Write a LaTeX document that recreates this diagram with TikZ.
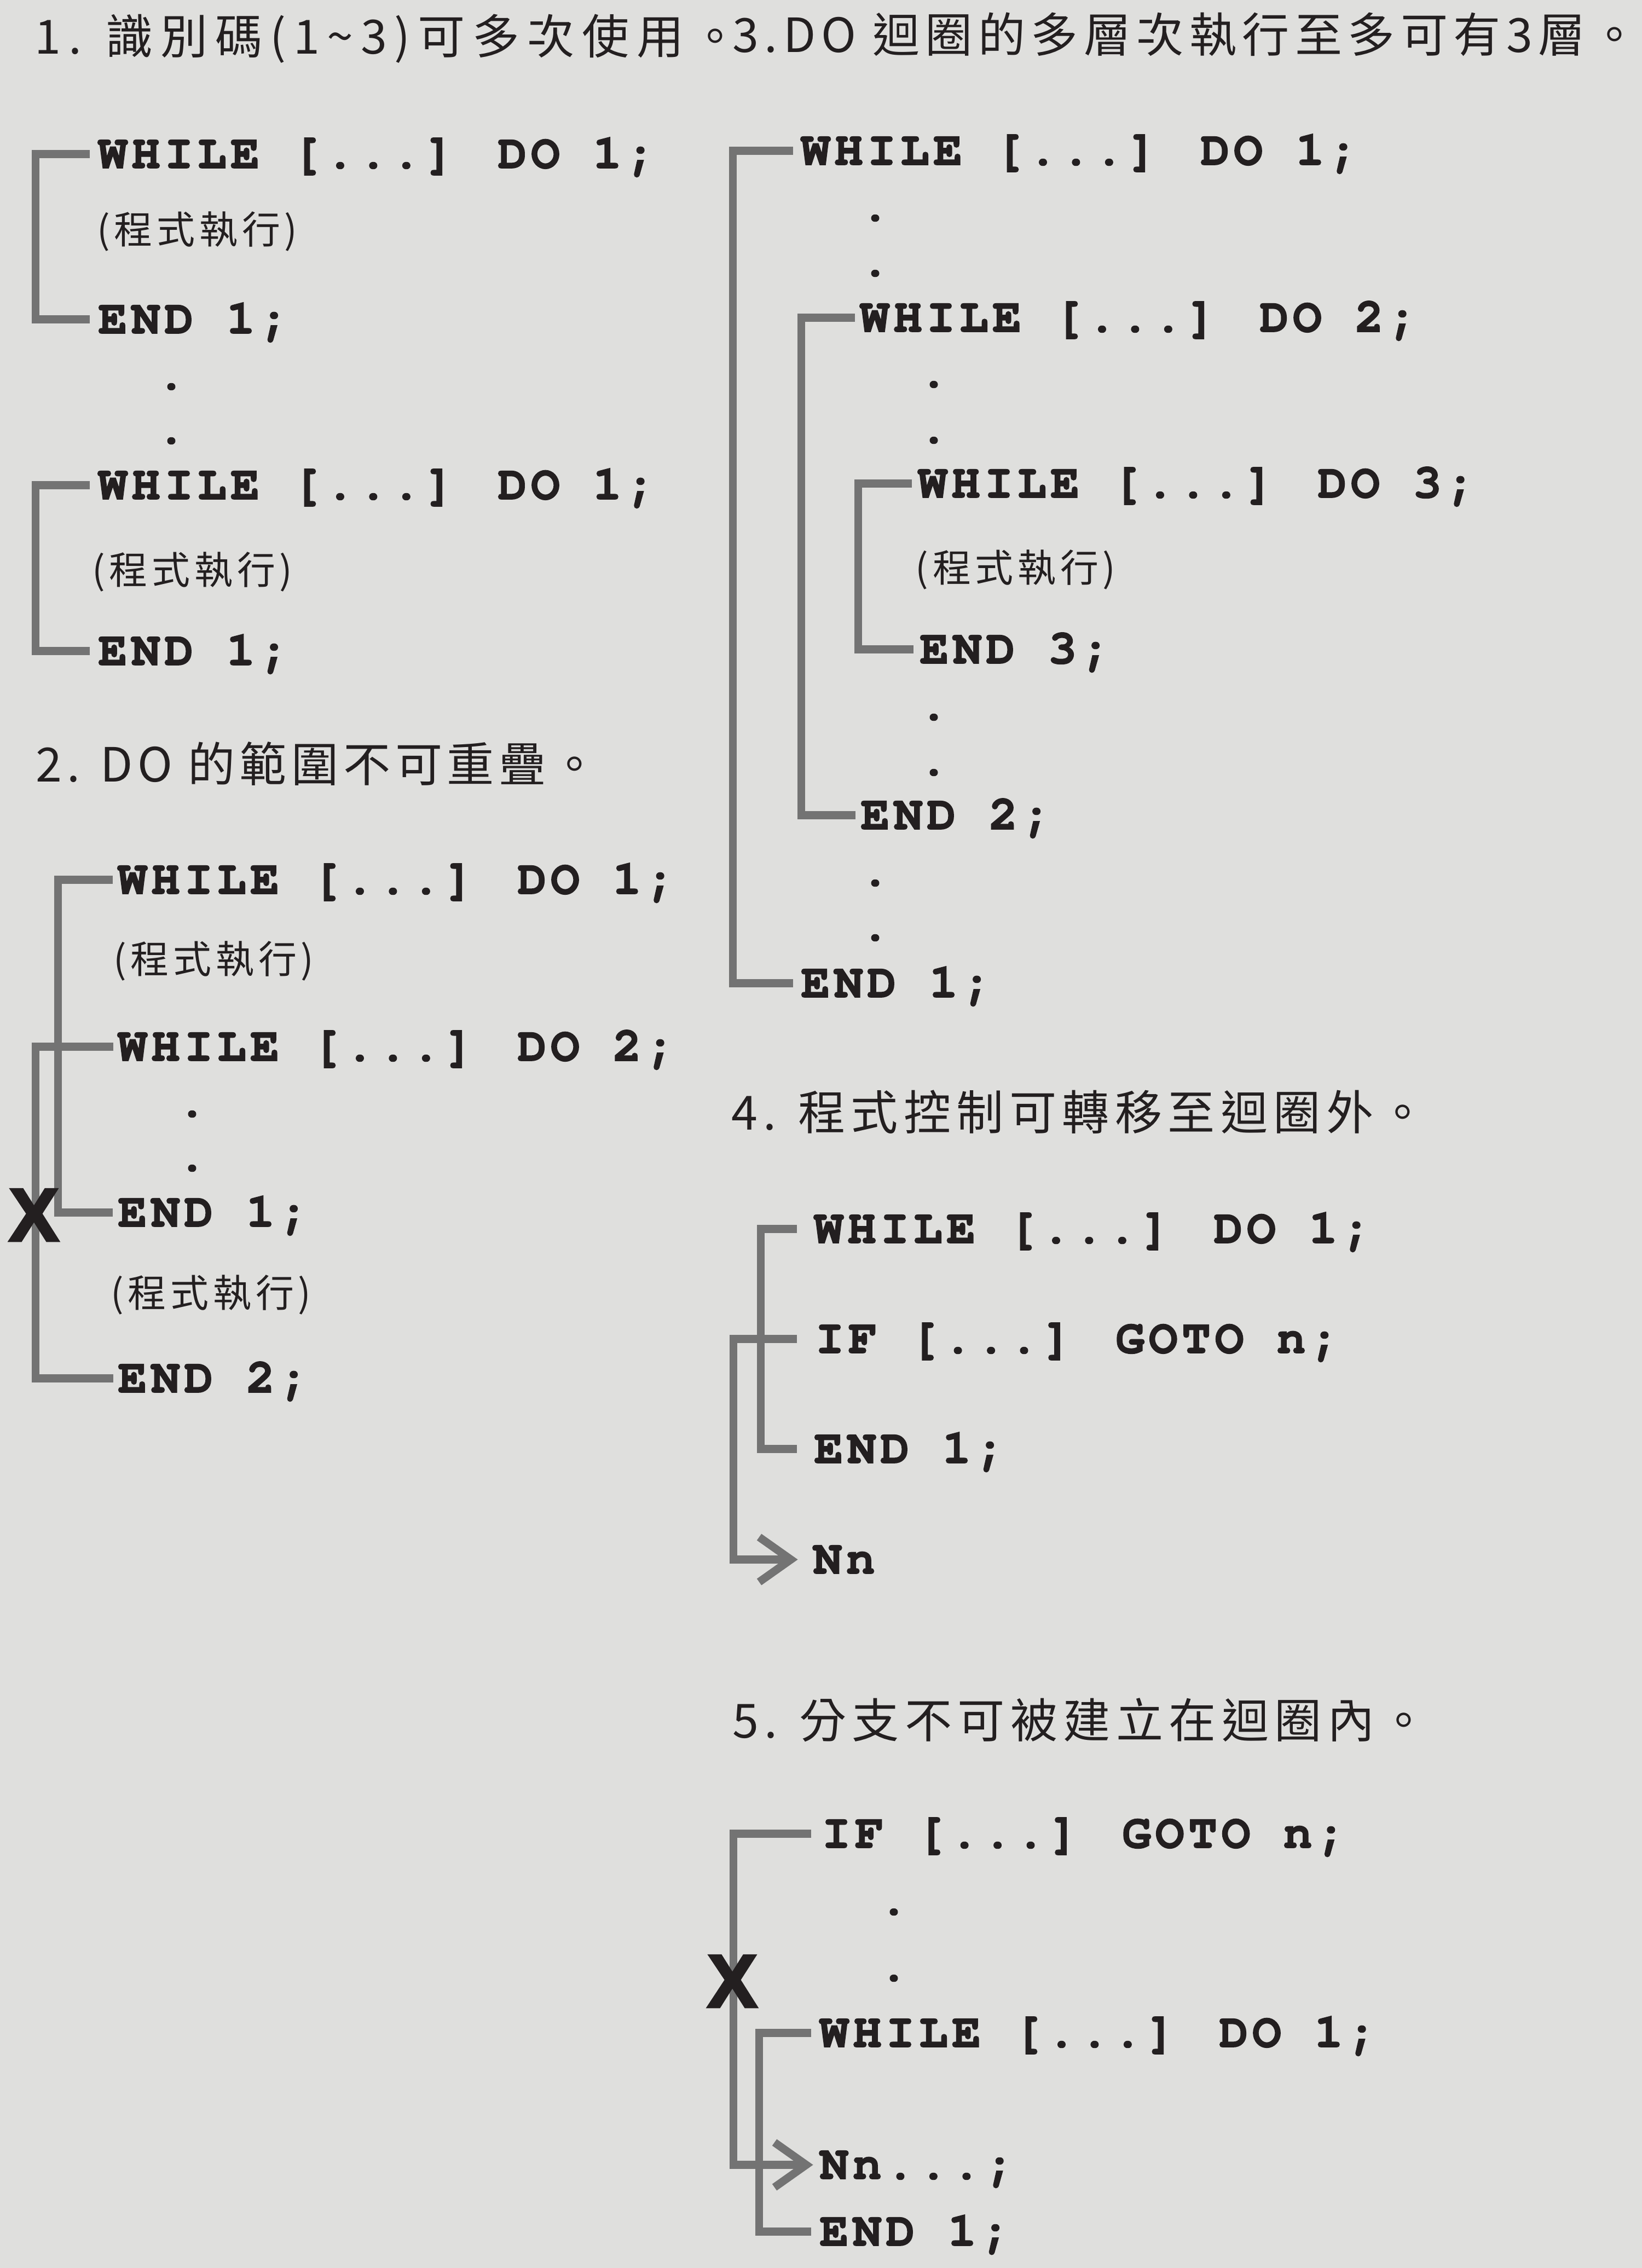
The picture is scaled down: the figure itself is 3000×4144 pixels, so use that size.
\documentclass[tikz,border=0pt]{standalone}
\usepackage{fontspec}
\newfontfamily\titlefont{Noto Sans CJK TC}[LetterSpace=12]
\newfontfamily\titlefontA{Noto Sans CJK TC}[LetterSpace=16]
\newfontfamily\titlefontB{Noto Sans CJK TC}[LetterSpace=10]
\newfontfamily\subfont{Noto Sans CJK TC}[LetterSpace=11]
\newfontfamily\codefont{texgyrecursor-bold.otf}[LetterSpace=8.75,FakeBold=2]
\newfontfamily\xfont{Liberation Sans}[BoldFeatures={FakeBold=3}]
\definecolor{bgc}{RGB}{223,223,221}
\definecolor{barc}{RGB}{115,115,115}
\definecolor{txt}{RGB}{35,31,32}
\tikzset{
  title/.style={font=\titlefont\fontsize{24.5pt}{30pt}\selectfont, text=txt, inner sep=0pt, anchor=base west},
  titleA/.style={title, font=\titlefontA\fontsize{24.5pt}{30pt}\selectfont},
  titleB/.style={title, font=\titlefontB\fontsize{24.5pt}{30pt}\selectfont},
  sub/.style={font=\subfont\fontsize{19.9pt}{24pt}\selectfont, text=txt, inner sep=0pt, anchor=west},
  code/.style={font=\codefont\fontsize{25pt}{30pt}\selectfont, text=txt, inner sep=0pt, anchor=base west, text height=0.51cm, text depth=0cm},
  dotnode/.style={code, anchor=base},
  xmark/.style={font=\xfont\bfseries\fontsize{39pt}{40pt}\selectfont, text=txt, inner sep=0pt, anchor=center},
  bar/.style={draw=barc, line width=0.145cm, line join=miter, line cap=butt}
}
\newcommand\brk[4]{\draw[bar] ([shift={(-#3,0)}]#1.west) -- ++(-#4,0) |- ([shift={(-#3,0)}]#2.west);}
\begin{document}
\begin{tikzpicture}[x=0.01cm,y=-0.01cm]
\useasboundingbox (0,0) rectangle (3000,4144);
\fill[bgc] (0,0) rectangle (3000,4144);

% ---------- titles ----------
\node[titleA] (t1) at (63,98) {1. 識別碼(1\symbol{126}3)可多次使用。};
\node[titleB] (t2) at (65,1428) {2. DO 的範圍不可重疊。};
\node[title] (t3) at (1338,95) {3.DO 迴圈的多層次執行至多可有3層。};
\node[title] (t4) at (1336,2064) {4. 程式控制可轉移至迴圈外。};
\node[title] (t5) at (1338,3175) {5. 分支不可被建立在迴圈內。};

% ---------- section 1 ----------
\node[code] (w1a) at (179,307) {WHILE [...] DO 1;};
\node[sub]  (p1a) at (177,423) {(程式執行)};
\node[code] (e1a) at (179,609) {END 1;};
\node[dotnode] (d1) at (313,711) {.};
\node[dotnode] (d2) at (313,810) {.};
\node[code] (w1b) at (179,912) {WHILE [...] DO 1;};
\node[sub]  (p1b) at (168,1045) {(程式執行)};
\node[code] (e1b) at (179,1215) {END 1;};

% ---------- section 2 ----------
\node[code] (w2a) at (215,1633) {WHILE [...] DO 1;};
\node[sub]  (p2a) at (207,1756) {(程式執行)};
\node[code] (w2b) at (215,1938) {WHILE [...] DO 2;};
\node[dotnode] (d3) at (351,2040) {.};
\node[dotnode] (d4) at (351,2139) {.};
\node[code] (e2a) at (215,2241) {END 1;};
\node[sub]  (p2b) at (202,2366) {(程式執行)};
\node[code] (e2b) at (215,2544) {END 2;};

% ---------- section 3 ----------
\node[code] (w3a) at (1463,301) {WHILE [...] DO 1;};
\node[dotnode] (d5) at (1599,403) {.};
\node[dotnode] (d6) at (1599,504) {.};
\node[code] (w3b) at (1571,606) {WHILE [...] DO 2;};
\node[dotnode] (d7) at (1706,707) {.};
\node[dotnode] (d8) at (1706,809) {.};
\node[code] (w3c) at (1677,909) {WHILE [...] DO 3;};
\node[sub]  (p3) at (1672,1041) {(程式執行)};
\node[code] (e3c) at (1680,1212) {END 3;};
\node[dotnode] (d9) at (1706,1315) {.};
\node[dotnode] (d10) at (1706,1416) {.};
\node[code] (e3b) at (1572,1515) {END 2;};
\node[dotnode] (d11) at (1599,1618) {.};
\node[dotnode] (d12) at (1599,1718) {.};
\node[code] (e3a) at (1463,1822) {END 1;};

% ---------- section 4 ----------
\node[code] (w4) at (1487,2271) {WHILE [...] DO 1;};
\node[code] (i4) at (1489,2472) {IF [...] GOTO n;};
\node[code] (e4) at (1487,2673) {END 1;};
\node[code] (n4) at (1485,2875) {Nn};

% ---------- section 5 ----------
\node[code] (i5) at (1501,3376) {IF [...] GOTO n;};
\node[dotnode] (d13) at (1633,3498) {.};
\node[dotnode] (d14) at (1633,3619) {.};
\node[code] (w5) at (1497,3740) {WHILE [...] DO 1;};
\node[code] (n5) at (1497,3981) {Nn...;};
\node[code] (e5) at (1497,4103) {END 1;};

% ---------- brackets ----------
\brk{w1a}{e1a}{15}{99}
\brk{w1b}{e1b}{15}{99}
\brk{w2a}{e2a}{9}{100}
\brk{w2b}{e2b}{8}{142}
\brk{w3a}{e3a}{14}{110}
\brk{w3b}{e3b}{9}{98}
\brk{w3c}{e3c}{11}{98}
\brk{w4}{e4}{31}{66}
\brk{w5}{e5}{15}{95}

% ---------- jumps ----------
\draw[bar] ([shift={(-33,0)}]i4.west) -- ++(-116,0) |- ([shift={(-40,0)}]n4.west) coordinate (tip4);
\draw[bar] (tip4) ++(-58,-41) -- (tip4) -- ++(-58,41);
\draw[bar] ([shift={(-19,0)}]i5.west) -- ++(-142,0) |- ([shift={(-24,0)}]n5.west) coordinate (tip5);
\draw[bar] (tip5) ++(-58,-41) -- (tip5) -- ++(-58,41);

% ---------- X marks (over the bars) ----------
\node[xmark] (x2) at (62,2220) {X};
\node[xmark] (x5) at (1338,3620) {X};
\end{tikzpicture}
\end{document}
